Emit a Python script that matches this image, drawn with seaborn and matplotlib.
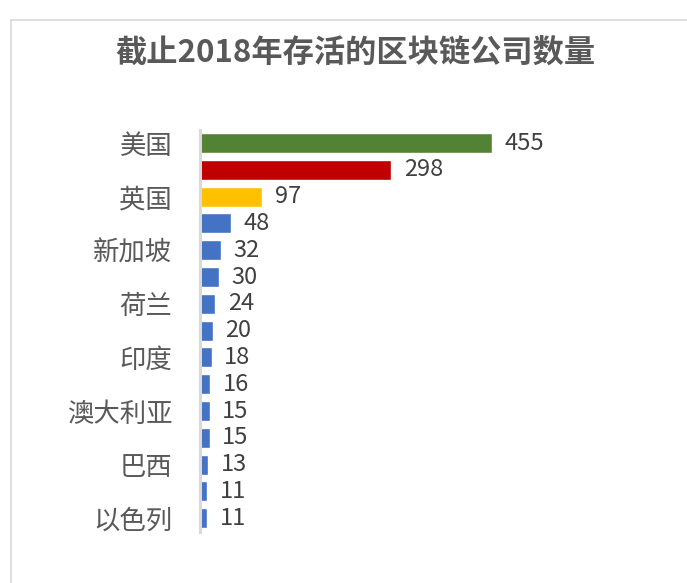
import pandas as pd
import seaborn as sns
import matplotlib.pyplot as plt
from matplotlib.lines import Line2D

sns.set_theme(style='white')
plt.rcParams['font.family'] = ['Noto Sans CJK SC', 'DejaVu Sans']

# data (top to bottom); only every other category is labelled
ranks = [str(i) for i in range(1, 16)]
labels = ['美国', '', '英国', '', '新加坡', '', '荷兰', '', '印度', '',
          '澳大利亚', '', '巴西', '', '以色列']
counts = [455, 298, 97, 48, 32, 30, 24, 20, 18, 16, 15, 15, 13, 11, 11]
colors = ['#548235', '#C00000', '#FFC000'] + ['#4472C4'] * 12

df = pd.DataFrame({'rank': ranks, 'count': counts})

W, H = 687, 583
fig = plt.figure(figsize=(W / 100, H / 100), dpi=100)

# faint frame lines of the original chart box
fig.add_artist(Line2D([11 / W, 1], [1 - 20 / H, 1 - 20 / H], color='#D9D9D9', lw=1.2))
fig.add_artist(Line2D([11 / W, 11 / W], [0, 1 - 20 / H], color='#D9D9D9', lw=1.2))

ax = fig.add_axes([200 / W, 1 - 531.6 / H, 480 / W, 402 / H])
sns.barplot(data=df, y='rank', x='count', hue='rank', palette=colors,
            legend=False, width=0.75, saturation=1, ax=ax)

ax.set_xlim(0, 480 / (292 / 455))
ax.set_yticks(range(len(labels)))
ax.set_yticklabels(labels, fontsize=19, color='#595959')
ax.tick_params(axis='y', length=0, pad=20)
ax.set_xticks([])
ax.set_xlabel('')
ax.set_ylabel('')
for s in ['top', 'right', 'bottom']:
    ax.spines[s].set_visible(False)
ax.spines['left'].set_color('#D9D9D9')
ax.spines['left'].set_linewidth(2.2)

for c in ax.containers:
    ax.bar_label(c, padding=9, fontsize=17, color='#404040')

fig.text(355 / W, 1 - 53 / H, '截止2018年存活的区块链公司数量', ha='center', va='center',
         fontsize=22.5, fontweight='bold', color='#595959')

fig.savefig('out.png', dpi=100)
